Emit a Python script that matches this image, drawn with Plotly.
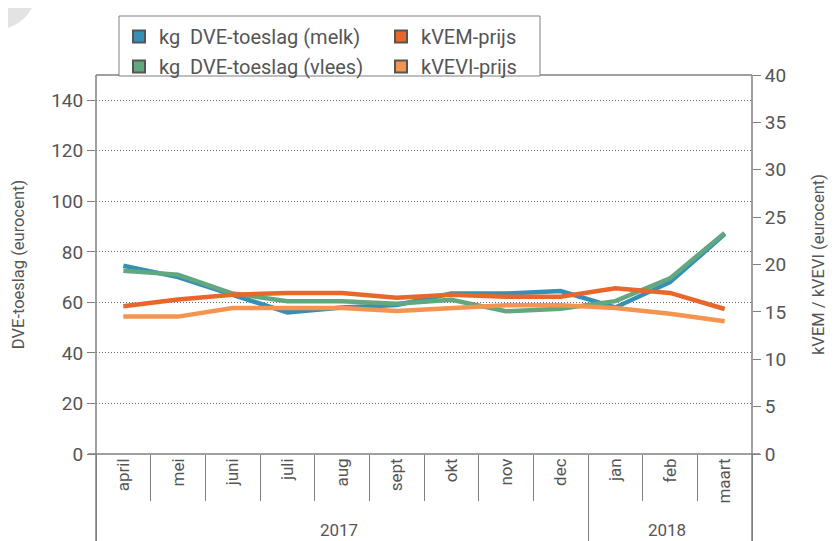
import plotly.graph_objects as go

years = ["2017"] * 9 + ["2018"] * 3
months = ["april", "mei", "juni", "juli", "aug", "sept", "okt", "nov", "dec", "jan", "feb", "maart"]

dve_melk = [74.5, 70, 63, 56, 58, 59, 63.5, 63.5, 64.5, 58, 68, 87]
dve_vlees = [72.5, 71, 63.5, 60.5, 60.5, 59.5, 61, 56.5, 57.5, 60.5, 69.5, 87.5]
kvem = [15.6, 16.3, 16.8, 17.0, 17.0, 16.5, 16.8, 16.6, 16.6, 17.5, 17.0, 15.3]
kvevi = [14.5, 14.5, 15.4, 15.4, 15.4, 15.1, 15.4, 15.7, 15.7, 15.4, 14.8, 14.0]

c_melk = "#3690b5"
c_vlees = "#62a87f"
c_kvem = "#e8672a"
c_kvevi = "#f5944f"
grey = "#808080"
txt = "#555555"
FONT = "Roboto"

# page has an 8px body margin; work in screenshot pixel coordinates
OFF = 8
W, H = 837, 541
PL, PR, PT, PB = 96, 752, 75, 454  # plot area in screenshot pixels
L = PL - OFF
T = PT - OFF
R = W - (PR - OFF)
B = H - (PB - OFF)
pw, ph = PR - PL, PB - PT

def px(x):
    return (x - PL) / pw

def py(y):
    return (PB - y) / ph

fig = go.Figure()
x = [years, months]
lw = 4.5
fig.add_trace(go.Scatter(x=x, y=dve_melk, mode="lines", line=dict(color=c_melk, width=lw), showlegend=False))
fig.add_trace(go.Scatter(x=x, y=dve_vlees, mode="lines", line=dict(color=c_vlees, width=lw), showlegend=False))
fig.add_trace(go.Scatter(x=x, y=kvevi, mode="lines", line=dict(color=c_kvevi, width=lw), showlegend=False, yaxis="y2"))
fig.add_trace(go.Scatter(x=x, y=kvem, mode="lines", line=dict(color=c_kvem, width=lw), showlegend=False, yaxis="y2"))

legend_items = [
    ("kg  DVE-toeslag (melk)", c_melk, "legend"),
    ("kg  DVE-toeslag (vlees)", c_vlees, "legend"),
    ("kVEM-prijs", c_kvem, "legend2"),
    ("kVEVI-prijs", c_kvevi, "legend2"),
]
for i, (name, col, lg) in enumerate(legend_items):
    fig.add_trace(go.Scatter(x=[None], y=[None], mode="markers", name=name,
                             legend=lg, legendgroup=f"g{i}",
                             marker=dict(symbol="square", size=14, color=col,
                                         line=dict(color="#555555", width=1))))

shapes = []
# legend box
shapes.append(dict(type="rect", xref="paper", yref="paper", x0=px(119), x1=px(540),
                   y0=py(76), y1=py(16), fillcolor="white",
                   line=dict(color=grey, width=1), layer="above"))
# frame lines
shapes.append(dict(type="line", xref="paper", yref="paper", x0=0, x1=1, y0=1, y1=1,
                   line=dict(color=grey, width=1.5), layer="below"))
shapes.append(dict(type="line", xref="paper", yref="paper", x0=0, x1=0, y0=py(H + 10), y1=1,
                   line=dict(color=grey, width=1.5)))
shapes.append(dict(type="line", xref="paper", yref="paper", x0=1, x1=1, y0=py(H + 10), y1=1,
                   line=dict(color=grey, width=1.5)))
shapes.append(dict(type="line", xref="paper", yref="paper", x0=px(88), x1=px(760), y0=0, y1=0,
                   line=dict(color=grey, width=1.5)))
# decorative corner circle
shapes.append(dict(type="circle", xref="paper", yref="paper",
                   x0=px(-47), x1=px(37), y0=py(-54), y1=py(30),
                   fillcolor="#e3e3e3", line=dict(width=0), layer="below"))

leg_common = dict(orientation="v", xanchor="left", yanchor="top",
                  bgcolor="rgba(0,0,0,0)", borderwidth=0,
                  font=dict(family=FONT, size=20, color=txt),
                  tracegroupgap=1, itemsizing="constant")

fig.update_layout(
    width=W, height=H,
    margin=dict(l=L, r=R, t=T, b=B, autoexpand=False),
    paper_bgcolor="white", plot_bgcolor="white",
    font=dict(family=FONT, size=15, color=txt),
    showlegend=True,
    legend=dict(x=px(119), y=py(17), **leg_common),
    legend2=dict(x=px(381), y=py(17), **leg_common),
    shapes=shapes,
    xaxis=dict(
        type="multicategory", range=[-0.5, 11.5], automargin=False,
        showline=False,
        ticks="outside", ticklen=46, tickcolor=grey, tickwidth=1,
        tickangle=-90,
        showdividers=True, dividercolor=grey, dividerwidth=1,
        showgrid=False, zeroline=False,
        tickfont=dict(family=FONT, size=17, color=txt),
    ),
    yaxis=dict(
        range=[0, 150], tickvals=[0, 20, 40, 60, 80, 100, 120, 140], automargin=False,
        showgrid=True, gridcolor="#666666", griddash="1px,2px", gridwidth=1,
        zeroline=False, showline=False,
        ticks="outside", ticklen=8, tickcolor=grey,
        title=dict(text="DVE-toeslag (eurocent)", standoff=22,
                   font=dict(family=FONT, size=16.5, color=txt)),
        tickfont=dict(family=FONT, size=19, color=txt),
    ),
    yaxis2=dict(
        range=[0, 40], dtick=5, overlaying="y", side="right", automargin=False,
        showgrid=False, zeroline=False, showline=False,
        ticks="outside", ticklen=8, tickcolor=grey,
        title=dict(text="kVEM / kVEVI (eurocent)", standoff=27,
                   font=dict(family=FONT, size=16.5, color=txt)),
        tickfont=dict(family=FONT, size=19, color=txt),
    ),
)

fig.write_html("out.html")
